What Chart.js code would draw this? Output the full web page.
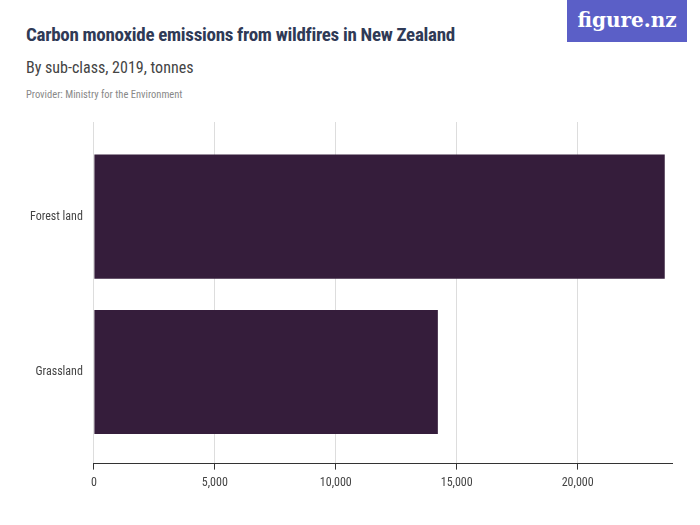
<!DOCTYPE html>
<html><head><meta charset="utf-8">
<script src="https://cdn.jsdelivr.net/npm/chart.js@4"></script>
<style>
body{margin:0;width:700px;height:525px;background:#fff;font-family:"Roboto Condensed",Roboto,"Liberation Sans Narrow",sans-serif;position:relative;overflow:hidden}
#t{position:absolute;left:26px;top:23px;font-size:19px;font-weight:bold;color:#2f3a56;letter-spacing:-0.3px}
#s{position:absolute;left:26px;top:58px;font-size:16px;color:#444}
#p{position:absolute;left:26px;top:88px;font-size:10.5px;color:#888}
#logo{position:absolute;left:567px;top:0;width:120px;height:42px;background:#5b5fc7;color:#fff;font-family:"DejaVu Serif",serif;font-weight:bold;font-size:20px;text-align:center;line-height:40px}
#c{position:absolute;left:0;top:0}
</style></head><body>
<div id="t">Carbon monoxide emissions from wildfires in New Zealand</div>
<div id="s">By sub-class, 2019, tonnes</div>
<div id="p">Provider: Ministry for the Environment</div>
<div id="logo">figure.nz</div>
<canvas id="c" width="700" height="525"></canvas>
<script>
const categories=["Forest land","Grassland"];
const values=[23600,14220];
const tickValues=[0,5000,10000,15000,20000];
new Chart(document.getElementById('c'),{
type:'bar',
data:{datasets:[{data:values.map((v,i)=>({x:v,y:i})),backgroundColor:'#351d3b',barPercentage:0.8,categoryPercentage:1}]},
options:{indexAxis:'y',responsive:false,animation:false,
layout:{padding:{top:122,right:28,bottom:29,left:27}},
plugins:{legend:{display:false},tooltip:{enabled:false}},
scales:{
x:{type:'linear',min:0,max:23900,border:{display:true,color:'#333'},
grid:{color:'#ddd',drawTicks:true,tickLength:6,tickColor:'#333'},
afterBuildTicks:a=>{a.ticks=tickValues.map(v=>({value:v}));},
ticks:{padding:6,color:'#444',font:{size:12,family:'Roboto Condensed, Roboto, sans-serif'},callback:v=>v.toLocaleString('en-US')}},
y:{type:'linear',offset:false,reverse:true,min:-0.61,max:1.59,grid:{display:false},border:{display:false},
afterBuildTicks:a=>{a.ticks=categories.map((c,i)=>({value:i}));},
ticks:{color:'#444',font:{size:12,family:'Roboto Condensed, Roboto, sans-serif'},callback:v=>categories[v]}}
}}});
</script></body></html>
